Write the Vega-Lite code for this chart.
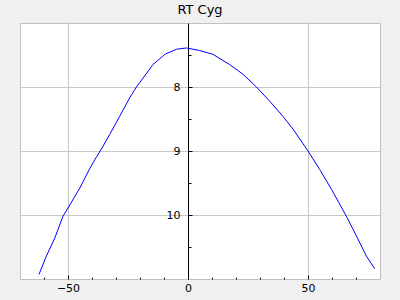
{
  "$schema": "https://vega.github.io/schema/vega-lite/v6.json",
  "width": 360,
  "height": 256,
  "autosize": {"type": "none"},
  "padding": {"left": 20, "top": 23, "right": 20, "bottom": 21},
  "background": "#f0f0f0",
  "title": {"text": "RT Cyg", "fontSize": 13, "font": "DejaVu Sans", "fontWeight": "normal", "color": "#000000", "baseline": "alphabetic", "offset": 8, "dy": 12, "frame": "group"},
  "config": {
    "view": {"fill": "#ffffff", "stroke": "#c0c0c0", "strokeWidth": 1},
    "axis": {"labelFont": "DejaVu Sans", "labelFontSize": 11, "labelColor": "#000000", "title": null, "gridColor": "#c8c8c8", "gridOpacity": 1, "tickColor": "#000000", "domainColor": "#000000"}
  },
  "data": {"values": [
    {"phase": -62.1, "mag": 10.93},
    {"phase": -59.0, "mag": 10.64},
    {"phase": -55.5, "mag": 10.36},
    {"phase": -52.1, "mag": 10.02},
    {"phase": -50.0, "mag": 9.89},
    {"phase": -45.1, "mag": 9.58},
    {"phase": -41.0, "mag": 9.28},
    {"phase": -38.9, "mag": 9.14},
    {"phase": -36.1, "mag": 8.97},
    {"phase": -32.6, "mag": 8.74},
    {"phase": -28.5, "mag": 8.46},
    {"phase": -24.3, "mag": 8.17},
    {"phase": -21.5, "mag": 8.0},
    {"phase": -20.1, "mag": 7.93},
    {"phase": -14.6, "mag": 7.65},
    {"phase": -12.1, "mag": 7.57},
    {"phase": -9.7, "mag": 7.49},
    {"phase": -4.8, "mag": 7.41},
    {"phase": -0.7, "mag": 7.39},
    {"phase": 4.9, "mag": 7.43},
    {"phase": 10.4, "mag": 7.49},
    {"phase": 17.4, "mag": 7.65},
    {"phase": 22.9, "mag": 7.8},
    {"phase": 28.5, "mag": 8.0},
    {"phase": 34.0, "mag": 8.22},
    {"phase": 39.6, "mag": 8.46},
    {"phase": 43.8, "mag": 8.66},
    {"phase": 50.0, "mag": 9.0},
    {"phase": 54.9, "mag": 9.29},
    {"phase": 59.8, "mag": 9.6},
    {"phase": 66.0, "mag": 10.02},
    {"phase": 70.2, "mag": 10.33},
    {"phase": 74.3, "mag": 10.64},
    {"phase": 77.8, "mag": 10.84}
  ]},
  "resolve": {"axis": {"x": "independent", "y": "independent"}},
  "layer": [
    {
      "mark": {"type": "line", "color": "#0000ff", "strokeWidth": 1},
      "encoding": {
        "x": {"field": "phase", "type": "quantitative", "scale": {"domain": [-70, 80], "nice": false, "zero": false},
              "axis": {"orient": "bottom", "values": [-50, 0, 50], "grid": true, "ticks": false, "domain": false, "labelPadding": 3}},
        "y": {"field": "mag", "type": "quantitative", "scale": {"domain": [7, 11], "reverse": true, "nice": false, "zero": false},
              "axis": {"orient": "left", "values": [8, 9, 10], "grid": true, "ticks": false, "domain": true, "offset": -168, "labelPadding": 8, "labelBaseline": "middle"}}
      }
    },
    {
      "mark": {"type": "line", "strokeOpacity": 0},
      "encoding": {
        "x": {"field": "phase", "type": "quantitative",
              "axis": {"orient": "top", "offset": -256, "values": [-50, 0, 50], "grid": false, "labels": false, "domain": false, "ticks": true, "tickSize": 4}},
        "y": {"field": "mag", "type": "quantitative",
              "axis": {"orient": "right", "offset": -192, "values": [8, 9, 10], "grid": false, "labels": false, "domain": false, "ticks": true, "tickSize": 4}}
      }
    },
    {
      "mark": {"type": "line", "strokeOpacity": 0},
      "encoding": {
        "x": {"field": "phase", "type": "quantitative",
              "axis": {"orient": "top", "offset": -256, "values": [-60, -40, -30, -20, -10, 10, 20, 30, 40, 60, 70], "grid": false, "labels": false, "domain": false, "ticks": true, "tickSize": 2}},
        "y": {"field": "mag", "type": "quantitative",
              "axis": {"orient": "right", "offset": -192, "values": [7.5, 8.5, 9.5, 10.5], "grid": false, "labels": false, "domain": false, "ticks": true, "tickSize": 3}}
      }
    }
  ]
}
